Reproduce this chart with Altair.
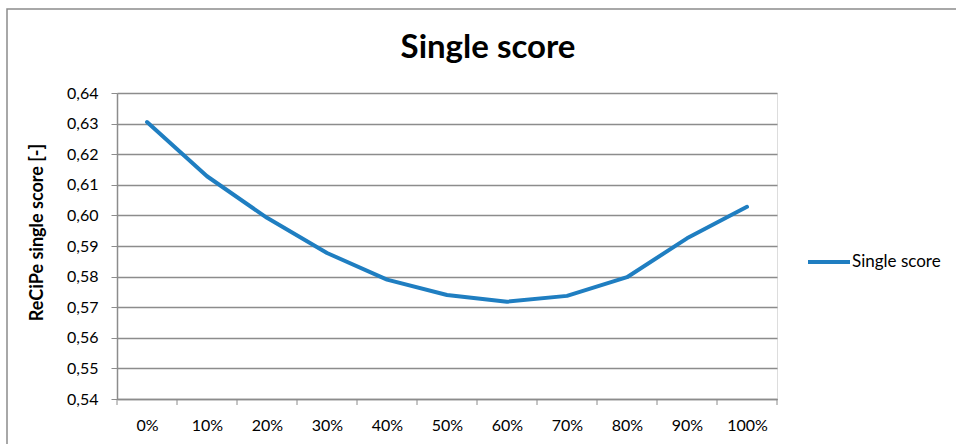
import altair as alt
import pandas as pd

categories = [0, 10, 20, 30, 40, 50, 60, 70, 80, 90, 100]
scores = [0.6305, 0.6128, 0.5992, 0.5877, 0.5790, 0.5740, 0.5718, 0.5737, 0.5798, 0.5925, 0.6028]
boundaries = [-5, 5, 15, 25, 35, 45, 55, 65, 75, 85, 95, 105]
y_ticks = [0.54, 0.55, 0.56, 0.57, 0.58, 0.59, 0.60, 0.61, 0.62, 0.63, 0.64]
series_name = "Single score"

df = pd.DataFrame({"share": categories, "score": scores, "series": [series_name] * len(categories)})
bd = pd.DataFrame({"b": boundaries})
frame_df = pd.DataFrame({"a": [0]})

FONT = "Lato"
GRID = "#8c8c8c"
LINE = "#1f7ec1"
W, H = 660, 306

x_scale = alt.Scale(domain=[-5, 105], nice=False, zero=False)
y_scale = alt.Scale(domain=[0.54, 0.64], nice=False, zero=False)

x_axis = alt.Axis(
    values=categories,
    labelExpr="datum.value + '%'",
    ticks=False,
    grid=False,
    domainColor=GRID,
    domainWidth=1.5,
    labelPadding=18,
    labelFontSize=16,
    labelFont=FONT,
    labelColor="#000",
    title=None,
)

line = alt.Chart(df).mark_line(strokeWidth=4, strokeJoin="round", strokeCap="round").encode(
    x=alt.X("share:Q", scale=x_scale, axis=x_axis),
    y=alt.Y(
        "score:Q",
        scale=y_scale,
        axis=alt.Axis(
            values=y_ticks,
            labelExpr="replace(format(datum.value, '.2f'), '.', ',')",
            grid=True,
            gridColor=GRID,
            gridWidth=1.5,
            domainColor=GRID,
            domainWidth=1.5,
            tickColor=GRID,
            tickSize=6,
            labelPadding=13,
            labelFontSize=16,
            labelFont=FONT,
            labelColor="#000",
            title="ReCiPe single score [-]",
            titleFont=FONT,
            titleFontSize=18,
            titleFontWeight="bold",
            titleColor="#000",
            titleAngle=-90,
            titleAlign="center",
            titleBaseline="middle",
            titleX=-80,
            titleY=139,
        ),
    ),
    color=alt.Color(
        "series:N",
        scale=alt.Scale(range=[LINE]),
        legend=alt.Legend(
            title=None,
            orient="none",
            legendX=689,
            legendY=146,
            symbolType="stroke",
            symbolSize=1764,
            symbolStrokeWidth=4,
            labelFont=FONT,
            labelFontSize=17,
            labelColor="#000",
            labelOffset=0,
            padding=0,
        ),
    ),
)

ticks = alt.Chart(bd).mark_rule(color=GRID, strokeWidth=1).encode(
    x=alt.X("b:Q", scale=x_scale, axis=x_axis),
    y=alt.value(H),
    y2=alt.value(H + 6),
)

frame = alt.Chart(frame_df).mark_rect(filled=False, stroke="#8c8c8c", strokeWidth=1.5).encode(
    x=alt.value(-110), x2=alt.value(900), y=alt.value(-84), y2=alt.value(400)
)

chart = alt.layer(line, ticks, frame).properties(
    width=W,
    height=H,
    autosize=alt.AutoSizeParams(type="none"),
    padding={"left": 117, "top": 93, "right": 179, "bottom": 45},
    title=alt.Title(
        "Single score",
        font=FONT,
        fontSize=33,
        fontWeight="bold",
        color="#000",
        anchor="middle",
        frame="group",
        baseline="alphabetic",
        dx=41,
        offset=-83,
    ),
).configure_view(stroke=None).configure(background="white")

chart.save("out.html", embed_options={"renderer": "svg", "actions": False})
